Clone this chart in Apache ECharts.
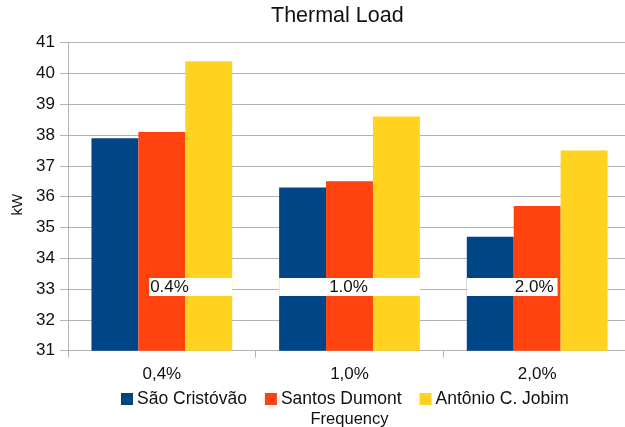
<!DOCTYPE html>
<html>
<head>
<meta charset="utf-8">
<script src="https://cdn.jsdelivr.net/npm/echarts@6/dist/echarts.min.js"></script>
<style>
  html, body { margin: 0; padding: 0; background: #fff; }
  #chart { width: 625px; height: 427px; }
</style>
</head>
<body>
<div id="chart"></div>
<script>
// Thermal load per design frequency for three Rio de Janeiro weather stations
const categories = ['0,4%', '1,0%', '2,0%'];
const seriesNames = ['São Cristóvão', 'Santos Dumont', 'Antônio C. Jobim'];
const saoCristovao = [37.9, 36.3, 34.7];
const santosDumont = [38.1, 36.5, 35.7];
const antonioJobim = [40.4, 38.6, 37.5];
const bandLabels = ['0.4%', '1.0%', '2.0%'];
const bandAnchor = 33;

const FONT = 'Liberation Sans';
const TEXT = '#111111';
const GRID_COLOR = '#b3b3b3';
const colors = ['#004586', '#ff420e', '#ffd320'];

// Extent of each white label box across its bar group (fraction of group width)
const bandBoxes = [
  { from: 0.41, to: 1.0, align: 'left' },
  { from: 0.0, to: 1.0, align: 'center' },
  { from: 0.0, to: 0.645, align: 'right' }
];
const GROUP_FRACTION = 0.75;

const chart = echarts.init(document.getElementById('chart'), null, { renderer: 'canvas' });

const barSeries = [saoCristovao, santosDumont, antonioJobim].map((vals, i) => ({
  name: seriesNames[i],
  type: 'bar',
  data: vals,
  barGap: 0,
  barCategoryGap: '25%',
  itemStyle: { color: colors[i] },
  z: 2
}));

const bandSeries = {
  name: 'bands',
  type: 'custom',
  z: 5,
  silent: true,
  data: bandLabels.map((t, i) => [i, bandAnchor, t]),
  renderItem: function (params, api) {
    const idx = api.value(0);
    const c = api.coord([idx, api.value(1)]);
    const bandW = api.size([1, 0])[0];
    const groupW = bandW * GROUP_FRACTION;
    const g0 = c[0] - groupW / 2;
    const box = bandBoxes[idx];
    const x0 = g0 + box.from * groupW;
    const x1 = g0 + box.to * groupW;
    const top = c[1] - 11;
    const h = 18;
    let tx, align;
    if (box.align === 'left') { tx = x0 + 1; align = 'left'; }
    else if (box.align === 'right') { tx = x1 - 4; align = 'right'; }
    else { tx = c[0] - 1; align = 'center'; }
    return {
      type: 'group',
      children: [
        { type: 'rect', shape: { x: x0, y: top, width: x1 - x0, height: h },
          style: { fill: '#ffffff' } },
        { type: 'text', x: tx, y: top + h / 2 + 0.5,
          style: { text: bandLabels[idx], fill: TEXT, font: '17px "' + FONT + '"',
                   textAlign: align, textVerticalAlign: 'middle' } }
      ]
    };
  }
};

chart.setOption({
  animation: false,
  backgroundColor: '#ffffff',
  color: colors,
  textStyle: { fontFamily: FONT, color: TEXT },
  title: {
    text: 'Thermal Load',
    left: 271,
    top: 5,
    padding: 0,
    textStyle: { fontFamily: FONT, fontSize: 21.5, fontWeight: 'normal', color: TEXT }
  },
  legend: {
    data: seriesNames,
    left: 121,
    top: 390,
    padding: 0,
    itemWidth: 12,
    itemHeight: 12,
    itemGap: 18,
    icon: 'rect',
    textStyle: { fontFamily: FONT, fontSize: 17.5, color: TEXT, padding: [0, 0, 0, -1] }
  },
  grid: { left: 68, right: -6, top: 42.7, bottom: 76.3, containLabel: false, outerBoundsMode: 'none' },
  xAxis: {
    type: 'category',
    data: categories,
    name: 'Frequency',
    nameLocation: 'middle',
    nameGap: 60,
    nameTextStyle: { fontFamily: FONT, fontSize: 16.5, color: TEXT },
    axisLine: { lineStyle: { color: GRID_COLOR, width: 1 } },
    axisTick: { show: true, length: 7, lineStyle: { color: GRID_COLOR } },
    axisLabel: { fontFamily: FONT, fontSize: 17, color: TEXT, margin: 15 }
  },
  yAxis: {
    type: 'value',
    min: 31,
    max: 41,
    interval: 1,
    name: 'kW',
    nameLocation: 'middle',
    nameGap: 35,
    nameRotate: 90,
    nameTextStyle: { fontFamily: FONT, fontSize: 15, color: TEXT, padding: [0, 16, 0, 0] },
    axisLine: { show: true, lineStyle: { color: GRID_COLOR, width: 1 } },
    axisTick: { show: true, length: 8, lineStyle: { color: GRID_COLOR } },
    axisLabel: { fontFamily: FONT, fontSize: 17, color: TEXT, margin: 13 },
    splitLine: { lineStyle: { color: GRID_COLOR, width: 1 } }
  },
  series: barSeries.concat([bandSeries])
});
</script>
</body>
</html>
